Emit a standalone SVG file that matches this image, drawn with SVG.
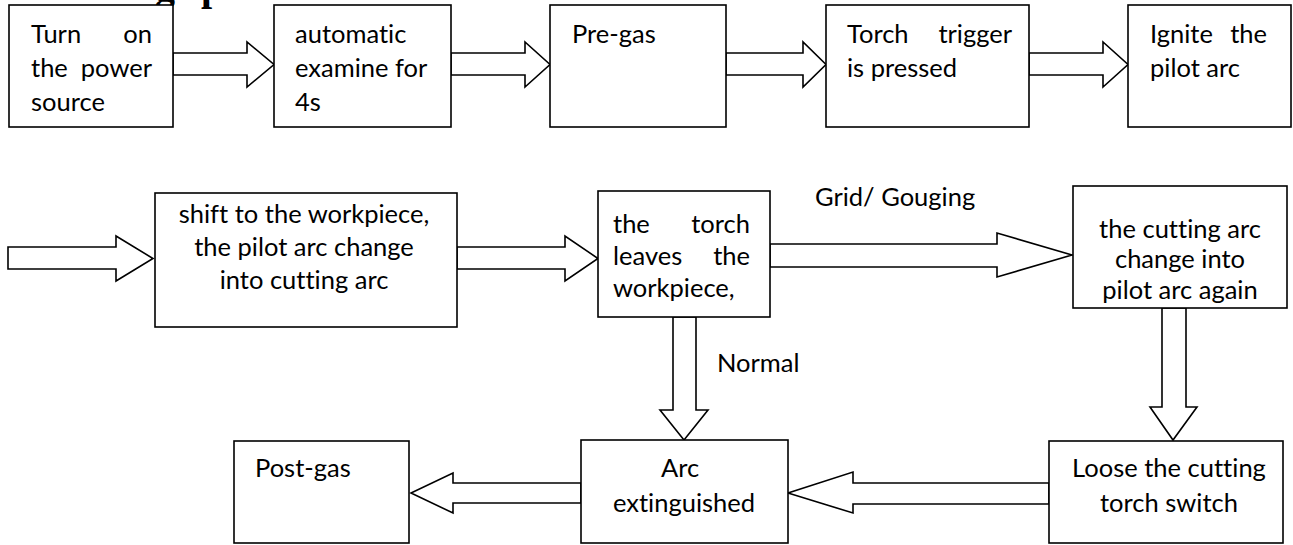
<svg xmlns="http://www.w3.org/2000/svg" width="1293" height="545" viewBox="0 0 1293 545">
<style>
.box{fill:#fff;stroke:#000;stroke-width:1.6}
.arr{fill:#fff;stroke:#000;stroke-width:1.6;stroke-linejoin:miter}
.t{font-family:Lato,"Open Sans","Liberation Sans",sans-serif;font-size:25.5px;fill:#000;font-variant-ligatures:none;font-feature-settings:"liga" 0}
.c{text-anchor:middle}
.e{text-anchor:end}
.h{font-family:"Liberation Serif","Times New Roman",serif;font-weight:bold;font-size:40px;fill:#000}
</style>
<rect width="1293" height="545" fill="#fff"/>
<text class="h" y="0"><tspan x="155">g</tspan><tspan x="201">p</tspan></text>
<g id="connectors">
<polygon class="arr" points="173,53 247,53 247,42 274,64.5 247,87 247,75 173,75"/>
<polygon class="arr" points="451,53 525,53 525,42 550,64.5 525,87 525,75 451,75"/>
<polygon class="arr" points="726,53 803,53 803,42 826,64.5 803,87 803,75 726,75"/>
<polygon class="arr" points="1029,53 1103,53 1103,42 1128,64.5 1103,87 1103,75 1029,75"/>
<polygon class="arr" points="8,247 116,247 116,236 153,258.5 116,281 116,269 8,269"/>
<polygon class="arr" points="457,247 565,247 565,236 598,258.5 565,281 565,269 457,269"/>
<polygon class="arr" points="770,244 997,244 997,233 1072,255 997,277 997,267 770,267"/>
<polygon class="arr" points="673,317 696,317 696,410 708,410 684,440 660,410 673,410"/>
<polygon class="arr" points="1162,308 1186,308 1186,407 1197,407 1173,440 1150,407 1162,407"/>
<polygon class="arr" points="1049,483 853,483 853,472 788,493 853,513 853,504 1049,504"/>
<polygon class="arr" points="581,483 453,483 453,473 411,493 453,513 453,503 581,503"/>
<text class="t" x="815" y="206">Grid/ Gouging</text>
<text class="t" x="717" y="372">Normal</text>
</g>
<g id="n1">
<rect class="box" x="9" y="5" width="164" height="122"/>
<text class="t" x="31" y="43">Turn</text><text class="t e" x="152" y="43">on</text>
<text class="t" x="31" y="77">the</text><text class="t e" x="152" y="77">power</text>
<text class="t" x="31" y="111">source</text>
</g>
<g id="n2">
<rect class="box" x="274" y="5" width="177" height="122"/>
<text class="t" x="295" y="43">automatic</text>
<text class="t" x="295" y="77">examine for</text>
<text class="t" x="295" y="111">4s</text>
</g>
<g id="n3">
<rect class="box" x="550" y="5" width="176" height="122"/>
<text class="t" x="572" y="43">Pre-gas</text>
</g>
<g id="n4">
<rect class="box" x="826" y="5" width="203" height="122"/>
<text class="t" x="847" y="43">Torch</text><text class="t e" x="1012" y="43">trigger</text>
<text class="t" x="847" y="77">is pressed</text>
</g>
<g id="n5">
<rect class="box" x="1128" y="5" width="163" height="122"/>
<text class="t" x="1150" y="43">Ignite</text><text class="t e" x="1267" y="43">the</text>
<text class="t" x="1150" y="77">pilot arc</text>
</g>
<g id="n6">
<rect class="box" x="155" y="193" width="302" height="134"/>
<text class="t c" x="304" y="223">shift to the workpiece,</text>
<text class="t c" x="304" y="256">the pilot arc change</text>
<text class="t c" x="304" y="289">into cutting arc</text>
</g>
<g id="n7">
<rect class="box" x="598" y="191" width="172" height="126"/>
<text class="t" x="613" y="233">the</text><text class="t e" x="750" y="233">torch</text>
<text class="t" x="613" y="265">leaves</text><text class="t e" x="750" y="265">the</text>
<text class="t" x="613" y="297">workpiece,</text>
</g>
<g id="n8">
<rect class="box" x="1073" y="186" width="214" height="122"/>
<text class="t c" x="1180" y="238">the cutting arc</text>
<text class="t c" x="1180" y="268">change into</text>
<text class="t c" x="1180" y="299">pilot arc again</text>
</g>
<g id="n9">
<rect class="box" x="234" y="441" width="175" height="102"/>
<text class="t" x="255" y="477">Post-gas</text>
</g>
<g id="n10">
<rect class="box" x="581" y="440" width="207" height="103"/>
<text class="t c" x="680" y="477">Arc</text>
<text class="t c" x="684" y="512">extinguished</text>
</g>
<g id="n11">
<rect class="box" x="1049" y="441" width="234" height="102"/>
<text class="t c" x="1169" y="477">Loose the cutting</text>
<text class="t c" x="1169" y="512">torch switch</text>
</g>
</svg>
